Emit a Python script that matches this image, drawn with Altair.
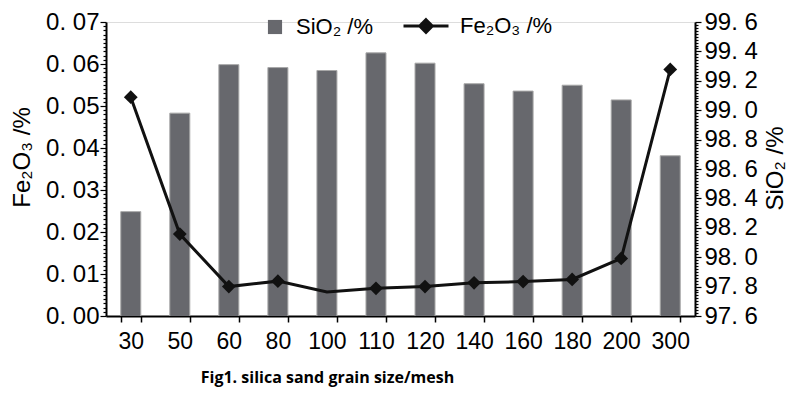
import altair as alt
import pandas as pd

mesh = ["30", "50", "60", "80", "100", "110", "120", "140", "160", "180", "200", "300"]
sio2 = [98.31, 98.98, 99.31, 99.29, 99.27, 99.39, 99.32, 99.18, 99.13, 99.17, 99.07, 98.69]
fe2o3 = [0.0521, 0.0195, 0.0070, 0.0083, 0.0057, 0.0066, 0.0070, 0.0079, 0.0082, 0.0087, 0.0137, 0.0587]
no_marker = ["100"]

SIO2_LBL = "SiO₂ /%"
FE_LBL = "Fe₂O₃ /%"

df = pd.DataFrame({"mesh": mesh, "sio2": sio2, "fe2o3": fe2o3,
                   "s_series": SIO2_LBL, "f_series": FE_LBL})

left_ticks = [round(i * 0.001, 3) for i in range(0, 71)]
right_ticks = [round(97.6 + i * 0.02, 2) for i in range(0, 101)]

LAB_FONT = "Liberation Sans, Arial, sans-serif"
NARROW = "Liberation Sans Narrow, Arial Narrow, Liberation Sans, sans-serif"

xenc = alt.X("mesh:N", sort=mesh,
             scale=alt.Scale(paddingInner=0.59, paddingOuter=0.3),
             axis=alt.Axis(title="Fig1. silica sand grain size/mesh", labelAngle=0,
                           labelFont=NARROW, labelFontSize=23, labelColor="black",
                           labelPadding=8, tickBand="extent", tickSize=6, tickColor="black",
                           tickWidth=1.5, domainColor="black", domainWidth=2,
                           titleFont="Open Sans, sans-serif", titleFontWeight="bold",
                           titleFontSize=16, titleColor="black", titleX=221, titleY=61,
                           titleAlign="center", titleBaseline="middle"))

bars = alt.Chart(df).mark_bar(size=20, color="#67686d", stroke="#a8a8a8", strokeWidth=1, clip=True).encode(
    x=xenc,
    y=alt.Y("sio2:Q", scale=alt.Scale(domain=[97.6, 99.6], zero=False, nice=False),
            axis=alt.Axis(orient="right", title=SIO2_LBL, values=right_ticks,
                          labelExpr="abs(datum.value*5 - round(datum.value*5)) < 1e-6 ? replace(format(datum.value, '.1f'), '.', '. ') : ''",
                          labelOverlap=False, labelFlush=False,
                          labelFont=LAB_FONT, labelFontSize=24, labelColor="black", labelPadding=3,
                          tickSize={"condition": {"test": "abs(datum.value*5 - round(datum.value*5)) < 1e-6", "value": 6}, "value": 3},
                          tickColor="black", tickWidth=1.2, domainColor="black", domainWidth=2,
                          grid=False, titleFont=LAB_FONT, titleFontSize=24, titleFontWeight="normal",
                          titleColor="black", titleAngle=270, titleX=80, titleY=146,
                          titleAlign="center", titleBaseline="middle")),
    fill=alt.Fill("s_series:N", scale=alt.Scale(domain=[SIO2_LBL], range=["#67686d"]),
                  legend=alt.Legend(title=None, orient="none", legendX=158, legendY=-6,
                                    symbolType="square", symbolSize=200, symbolStrokeWidth=0,
                                    labelFont=LAB_FONT, labelFontSize=22, labelColor="black",
                                    labelOffset=10))
)

yleft = alt.Y("fe2o3:Q", scale=alt.Scale(domain=[0, 0.07], nice=False),
              axis=alt.Axis(orient="left", title=FE_LBL, values=left_ticks,
                            labelExpr="abs(datum.value*100 - round(datum.value*100)) < 1e-6 ? replace(format(datum.value, '.2f'), '.', '. ') : ''",
                            labelOverlap=False, labelFlush=False,
                            labelFont=LAB_FONT, labelFontSize=24, labelColor="black", labelPadding=1,
                            tickSize={"condition": {"test": "abs(datum.value*100 - round(datum.value*100)) < 1e-6", "value": 6}, "value": 3},
                            tickColor="black", tickWidth=1.2, domainColor="black", domainWidth=2,
                            grid=False, titleFont=LAB_FONT, titleFontSize=24, titleFontWeight="normal",
                            titleColor="black", titleAngle=270, titleX=-84, titleY=135,
                            titleAlign="center", titleBaseline="middle"))

line = alt.Chart(df).mark_line(strokeWidth=3).encode(
    x=xenc, y=yleft,
    stroke=alt.Stroke("f_series:N", scale=alt.Scale(domain=[FE_LBL], range=["#111111"]),
                      legend=alt.Legend(title=None, orient="none", legendX=296, legendY=-20,
                                        symbolType="M-1,0L1,0M0,-0.28L0.28,0L0,0.28L-0.28,0Z",
                                        symbolSize=2025, symbolStrokeWidth=3,
                                        symbolFillColor="#111111",
                                        labelFont=LAB_FONT, labelFontSize=22, labelColor="black",
                                        labelOffset=10))
)

points = alt.Chart(df).mark_point(shape="diamond", filled=True, size=190, color="#111111", opacity=1).encode(
    x=xenc, y=yleft
).transform_filter(
    alt.FieldOneOfPredicate(field="mesh", oneOf=no_marker).__invert__()
)

chart = alt.layer(bars, alt.layer(line, points)).resolve_scale(
    y="independent", fill="independent", stroke="independent"
).properties(
    width=589, height=294,
    autosize=alt.AutoSizeParams(type="none"),
    padding={"left": 98, "top": 14, "right": 97, "bottom": 75}
).configure_view(stroke=None).configure(background="white")

chart.save("out.html", embed_options={"renderer": "svg", "actions": False})
